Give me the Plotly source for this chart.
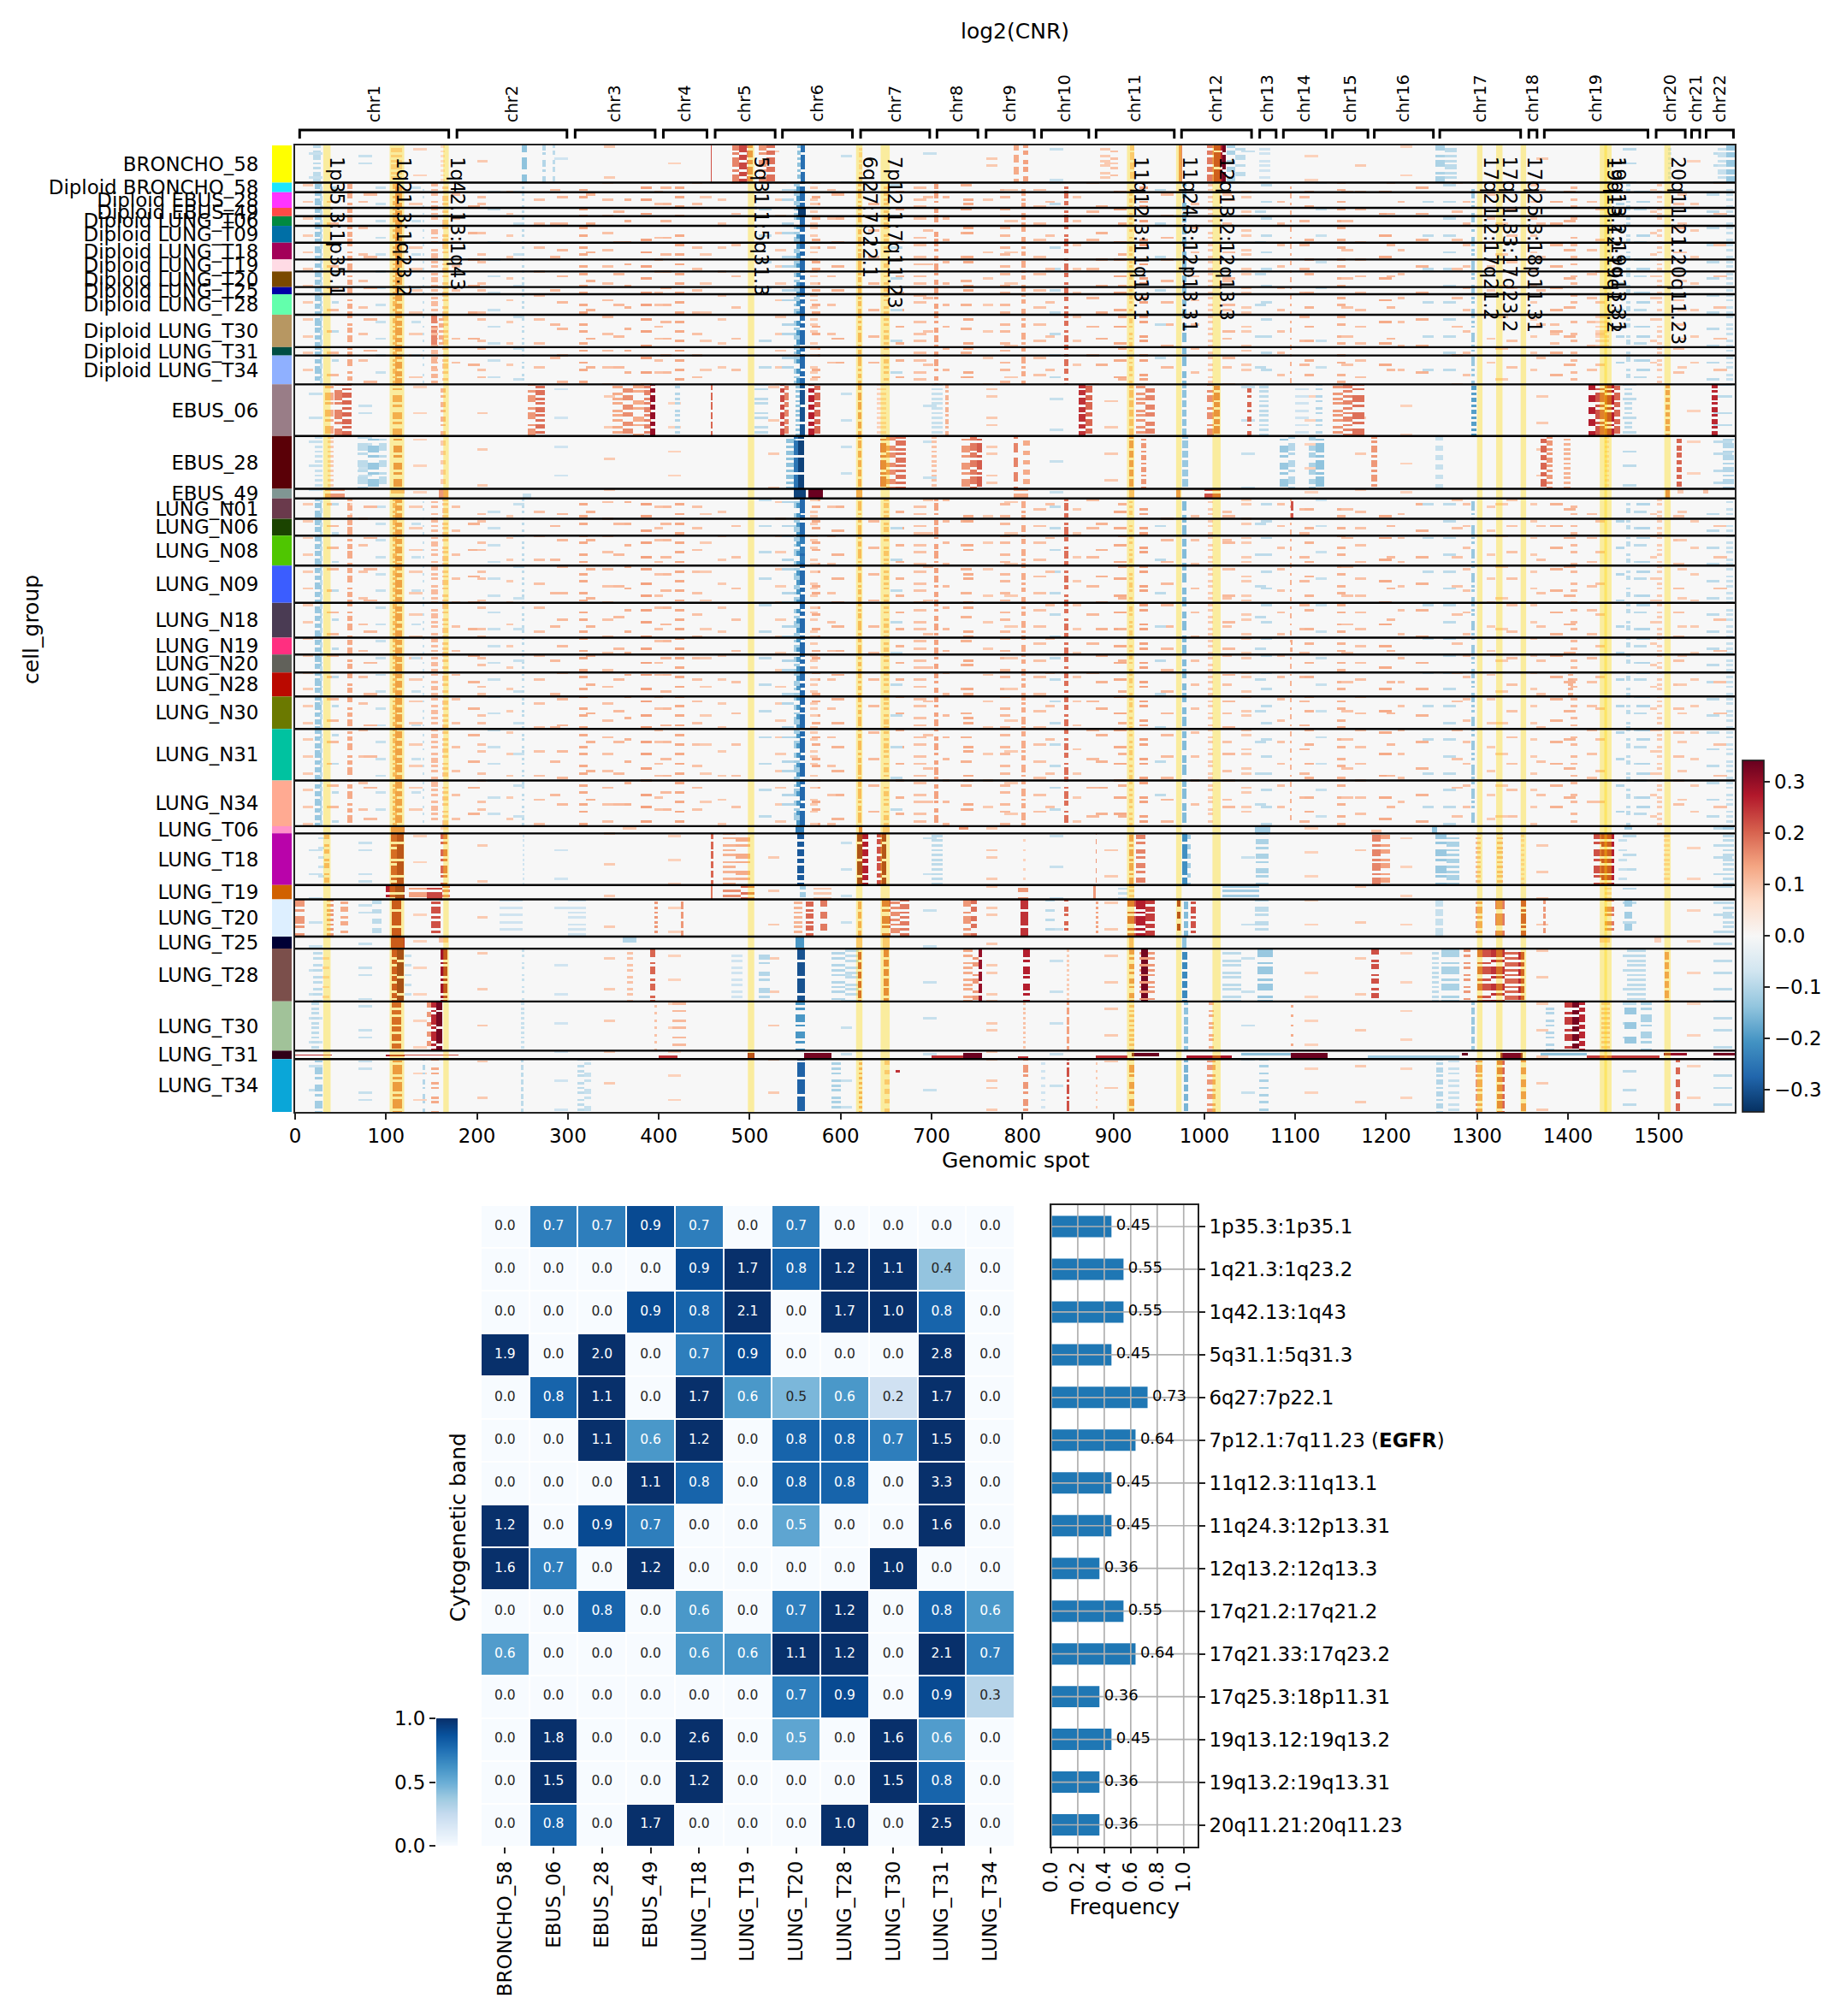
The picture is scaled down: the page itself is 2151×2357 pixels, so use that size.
import numpy as np
import plotly.graph_objects as go

W, H = 2151, 2357
FONT = "DejaVu Sans"

# ---------- main heatmap: groups ----------
GROUPS = ["BRONCHO_58", "Diploid BRONCHO_58", "Diploid EBUS_28", "Diploid EBUS_49", "Diploid LUNG_T06",
          "Diploid LUNG_T09", "Diploid LUNG_T18", "Diploid LUNG_T19", "Diploid LUNG_T20", "Diploid LUNG_T25",
          "Diploid LUNG_T28", "Diploid LUNG_T30", "Diploid LUNG_T31", "Diploid LUNG_T34", "EBUS_06", "EBUS_28",
          "EBUS_49", "LUNG_N01", "LUNG_N06", "LUNG_N08", "LUNG_N09", "LUNG_N18", "LUNG_N19", "LUNG_N20", "LUNG_N28",
          "LUNG_N30", "LUNG_N31", "LUNG_N34", "LUNG_T06", "LUNG_T18", "LUNG_T19", "LUNG_T20", "LUNG_T25", "LUNG_T28",
          "LUNG_T30", "LUNG_T31", "LUNG_T34"]
GROUP_CELLS = [31, 8, 13, 7, 8, 14, 14, 10, 13, 6, 17, 27, 7, 24, 43, 44, 8, 17, 14, 25, 31, 29, 14, 15, 20, 27, 43,
               38, 6, 43, 12, 31, 10, 44, 41, 7, 44]
GROUP_COLORS = ["#FFFF00", "#1CE6FF", "#FF34FF", "#FF4A46", "#008941", "#006FA6", "#A30059", "#FFDBE5", "#7A4900",
                "#0000A6", "#63FFAC", "#B79762", "#004D43", "#8FB0FF", "#997D87", "#5A0007", "#809693", "#6A3A4C",
                "#1B4400", "#4FC601", "#3B5DFF", "#4A3B53", "#FF2F80", "#61615A", "#BA0900", "#6B7900", "#00C2A0",
                "#FFAA92", "#FF90C9", "#B903AA", "#D16100", "#DDEFFF", "#000035", "#7B4F4B", "#A1C299", "#300018",
                "#0AA6D8"]

CHROMS = ["chr%d" % i for i in range(1, 23)]
CHR_START = [5, 178, 308, 405, 462, 536, 622, 706, 760, 821, 881, 975, 1061, 1087, 1141, 1187, 1259, 1357, 1374, 1497, 1536, 1552]
CHR_END = [169, 299, 396, 453, 528, 613, 698, 751, 813, 873, 967, 1052, 1079, 1134, 1180, 1252, 1348, 1366, 1488, 1529, 1545, 1582]

# ---------- cytogenetic bands ----------
BANDS = ["1p35.3:1p35.1", "1q21.3:1q23.2", "1q42.13:1q43", "5q31.1:5q31.3", "6q27:7p22.1", "7p12.1:7q11.23",
         "11q12.3:11q13.1", "11q24.3:12p13.31", "12q13.2:12q13.3", "17q21.2:17q21.2", "17q21.33:17q23.2",
         "17q25.3:18p11.31", "19q13.12:19q13.2", "19q13.2:19q13.31", "20q11.21:20q11.23"]
BAND_TICKS = BANDS[:5] + ["7p12.1:7q11.23 (<b>EGFR</b>)"] + BANDS[6:]
SPAN_START = [31, 104, 163, 498, 617, 644, 915, 969, 1009, 1300, 1321, 1348, 1435, 1440, 1506]
SPAN_END = [39, 120, 169, 505, 624, 654, 923, 975, 1018, 1306, 1328, 1354, 1443, 1448, 1513]

# ---------- log2(CNR) read as: start end value(x100) row-mask ----------
NORMAL = ("22 29 -13 1011101101;27 30 -9 0110010110;57 63 13 1100101101;107 112 13 1011010;110 118 17 1101101;150 157 11 1001011010;"
          "162 168 10 0110100101;140 142 -8 0100010010;249 252 -9 1010010100;548 555 -12 1001101011;551 556 -20 0110;"
          "555 561 -27 1110110111;566 575 9 0010100100;619 623 13 1101011011;647 653 11 1010100101;"
          "703 707 14 1101001101;799 803 13 1010110011;846 850 19 1101100101;917 921 10 1011010010;"
          "975 980 -15 1100111011;1004 1009 9 0101001010;1293 1297 -13 1101010011;1094 1096 12 1001001;"
          "1464 1468 -9 0010110;1497 1503 9 1010010;1574 1581 -8 0100101")
BG_A = ("8 20 9 0010000;35 48 11 000001000;70 80 10 01000000000;88 100 -8 0001000;125 140 9 000000100;172 182 10 1000000000;"
        "190 203 12 00010000000;212 226 -8 0000010;232 240 9 010000000;262 275 10 0010000000;288 300 11 00000000001;"
        "312 322 13 00100100;338 350 10 0100000;362 370 12 000010000;380 392 14 10000010000;402 414 11 0001000;"
        "418 428 13 01000100;436 448 10 000000100;465 474 9 0010000000;510 524 -9 00001000000;528 540 9 0100000;"
        "568 578 13 000100100;590 604 12 1000000000;630 642 11 00100000000;660 670 12 0000010;680 694 10 01000010;"
        "712 720 11 000100000;732 744 12 0000001000;756 768 9 10000000000;775 786 11 00100100;812 826 10 0000100;"
        "830 842 -9 000000100;855 864 9 0100000000;880 894 12 00010000000;900 914 13 0000010;928 938 14 01000001;"
        "952 966 11 001000000;985 994 10 0000100000;1020 1034 11 10000000000;1040 1052 9 00010100;1062 1074 -9 0010000;"
        "1080 1088 10 000001000;1104 1116 11 0100000000;1122 1134 -8 00001000000;1146 1155 12 00100001;1165 1178 10 0000010;"
        "1192 1206 13 010000000;1212 1220 10 0001000000;1232 1246 12 00000010000;1262 1276 -9 0010000;1284 1292 10 000001000;"
        "1310 1320 9 1000000000;1332 1344 10 00001000000;1358 1366 9 0010000;1380 1394 12 000001000;1402 1410 11 01000010;"
        "1420 1432 10 0001000000;1452 1462 -10 00100000000;1472 1486 -9 0000010;1490 1497 9 100000000;1515 1528 10 0000100000;"
        "1534 1544 9 00100000000;1552 1566 -9 0000001")
BG_B = ("40 48 -9 000001000000;75 90 11 0000000100000;128 138 -8 00010000000000;200 210 10 100000000100;240 252 -8 0000001000000;"
        "280 292 11 00001000000000;320 330 12 000000001000;350 362 11 0100000000000;395 404 10 00000100001000;"
        "445 458 9 000000000100;480 490 10 0010000000000;535 548 -10 00001000100000;585 594 10 000000100000;"
        "655 668 -9 0001000000000;690 702 10 00000001000000;735 746 13 100000000010;780 795 9 0000010000000;"
        "825 835 10 00000000010000;870 884 11 000100000000;905 914 12 0000001000000;945 958 -9 00001000000000;"
        "1020 1030 10 000000001000;1055 1068 -9 0100000000000;1110 1120 12 00000100000100;1150 1164 10 000000010000;"
        "1200 1210 11 0010000000000;1240 1252 -9 00000000010000;1272 1284 10 000100000000;1320 1334 9 0000001000000;"
        "1365 1375 10 00001000000000;1395 1408 12 000000010000;1430 1440 10 1000000000000;1475 1490 -10 00000100010000;"
        "1520 1530 9 000000001000;1560 1575 10 0010000000000")
BG_C = ("15 30 -8 0001000000;70 85 -8 0000100100000;130 145 8 01000000000;200 212 9 000000100000000;285 300 -7 000001000000;"
        "340 352 9 1000000000000;410 424 8 0000000100;520 532 9 00100000000000;600 612 -8 00001000000;690 705 -8 000100000000000;"
        "760 772 9 000001001000;830 845 -8 0100000000000;890 905 9 00000001000;1040 1055 -8 00100000000000;1110 1125 8 0000100000;"
        "1165 1178 9 000000001000000;1215 1228 8 100000000000;1365 1378 9 00000100000;1460 1475 -9 01000001000000;"
        "1530 1545 8 0000001000000;1560 1580 -9 000100001000")
USES_NORMAL = [i for i in range(len(GROUPS)) if GROUPS[i].startswith("Diploid") or "_N" in GROUPS[i]]
STRETCHED = ["EBUS_49", "LUNG_T06", "LUNG_T31", "LUNG_T25"]
SPECIFIC = {
    "BRONCHO_58": "20 28 -9 1010110;105 118 9 0110101;249 255 -14 1110011;272 276 -10 1101001;283 286 -9 1011001;160 165 7 1010;457 458 22 1;481 488 17 1101011;488 497 23 1110110;497 503 18 1011101;510 518 15 1101001;518 528 19 1011011;552 556 -14 10110;556 561 -26 1110111;790 796 13 11001;800 806 14 1011001;885 896 9 0100101;896 905 10 0010010;918 923 10 1101;972 975 17 1;1003 1010 18 1011011;1010 1020 27 1101111;1020 1023 33 1110111;1024 1034 -11 1011001;1034 1045 -9 0100110;1060 1072 -7 0101001;1254 1264 -11 1100101;1264 1277 -9 0110101;1564 1574 -8 0101101;1574 1583 -13 1101101;620 624 8 01011;1510 1513 -7 0101",
    "Diploid EBUS_49": "553 562 -33 1;1300 1306 8 0100",
    "Diploid LUNG_T30": "150 156 17 110101011;158 164 13 10101;1430 1445 8 0101;1380 1390 10 0010",
    "Diploid LUNG_T34": "150 156 12 101001",
    "EBUS_06": "33 42 13 1010011;43 52 17 11010011;52 62 20 10110101;107 118 15 1101001;160 166 12 101001;256 264 15 1100101;264 275 19 1010110;349 360 13 1010010;360 372 16 1001101;372 384 13 0110100;384 391 17 1010110;390 396 30 1101101;418 423 -10 1010010;457 459 20 1101;505 520 -9 000101;533 538 23 1101101;538 543 17 1011011;550 556 -14 1010;555 561 -30 1110111;564 571 27 1101101;571 578 20 1011011;619 623 16 1101;700 712 -8 010101;715 719 12 10101;862 869 25 1110110;869 877 20 1011101;925 935 15 1010010;935 945 17 1001101;917 922 12 1011;975 980 -14 1011;1003 1010 16 1100101;1010 1017 19 1011011;1047 1052 20 101001;1060 1070 -9 1010;1122 1130 -10 01001;1141 1152 15 1010010;1152 1163 17 0110101;1163 1176 19 1101001;1293 1299 -19 11010;1422 1430 27 11001;1430 1440 22 1101011;1440 1450 27 1110101;1450 1457 20 1011011;1462 1470 -9 0101;1507 1512 16 110;1558 1564 26 10101;640 650 8 0101;1100 1115 -7 001",
    "EBUS_28": "22 30 -8 0101;36 42 9 0101;69 80 -9 1010011;80 92 -13 1101001;92 101 -9 1001011;108 118 18 1101001;160 166 9 1001;540 550 -14 10110;548 556 -25 1110111;553 560 -32 1110111;619 623 15 1101;643 650 20 1101011;650 660 16 1011001;660 672 19 1010110;733 742 15 1101001;742 750 18 1011011;750 755 21 1101011;700 705 10 0101;790 795 17 110011;800 808 13 1001;917 922 17 1101;930 936 15 10101;975 982 -13 1101;1083 1092 -13 1101001;1092 1100 -10 1010011;1115 1122 -11 1011001;1122 1132 -14 1101011;1183 1190 15 110101;1370 1376 20 1101101;1376 1383 15 1010110;1395 1402 12 1010;1440 1445 7 0101;1519 1525 20 101101;1570 1582 -10 10101;1254 1262 -8 0110",
    "EBUS_49": "33 55 15 1011;105 120 12 10;158 168 15 11;250 260 -8 01;548 562 -32 1;564 580 34 1;617 624 15 1;790 806 13 1011;917 923 12 1;1000 1018 22 1011;969 974 17 1;1507 1512 18 1;1520 1527 9 10;1548 1554 10 10",
    "LUNG_N01": "1095 1098 22 11011;60 63 8 0100",
    "LUNG_N08": "555 561 -24 1101",
    "LUNG_N19": "1095 1097 13 101",
    "LUNG_N28": "1400 1405 12 1010",
    "LUNG_T06": "105 120 18 1;160 168 8 10;360 375 9 10;550 560 -24 1;620 624 20 1;646 654 10 1;730 740 15 10;1055 1072 -12 1;1250 1256 -14 1;1462 1470 -12 10;1570 1582 -12 10;1183 1195 10 01",
    "LUNG_T18": "25 32 -8 1000;32 38 13 100101;105 112 25 1110101;112 119 30 1110111;160 167 20 1101001;250 252 -7 0101;457 460 20 1011;470 484 12 0100101;484 500 13 0110100;552 560 -29 1101101;618 624 32 1110111;624 630 27 1101101;640 645 22 1011011;645 650 31 1110111;700 712 -9 0101;800 803 8 0100;917 922 16 110101;925 935 17 101001;975 981 -21 1110111;981 985 -12 1001;1056 1070 -11 011010;1184 1194 17 110101;1194 1204 14 100101;1254 1266 -13 1101001;1266 1280 -11 0101101;1298 1304 11 1010;1322 1328 12 1010;1348 1352 8 0101;1428 1436 22 1101001;1436 1450 27 1101101;1455 1465 -8 0100;1505 1512 8 0101;1570 1582 -9 0101;880 881 15 0110",
    "LUNG_T19": "100 110 27 1110101;110 120 32 1110111;125 145 14 100101;145 162 23 110101;162 170 17 1010;457 459 18 1;470 490 16 10100;490 505 19 01010;555 562 -12 101;570 590 9 0101;795 806 15 0110;878 880 15 1;917 923 10 10;1020 1060 -12 1010;905 915 -8 01;1440 1448 8 01",
    "LUNG_T20": "0 10 15 1101001;35 42 15 1010;50 58 13 100101;85 95 -9 0011;106 117 28 1110111;150 160 22 110101;225 250 -7 001001;300 320 -7 0010101;395 399 15 0101;424 427 15 1101;548 558 12 0101;562 570 20 11010;578 585 18 11001;619 623 15 1101;645 655 21 1101001;655 665 16 1010110;665 675 18 0110101;735 743 15 1100101;743 750 19 1011001;798 806 25 1110111;825 835 -9 0010;846 850 20 101001;880 883 14 01;915 925 22 1100101;925 935 27 1110101;935 945 24 1011011;970 974 30 11001;977 982 -15 1101;985 990 22 110101;1055 1070 -9 101001;1254 1262 -8 1011;1298 1306 15 110101;1320 1330 18 1110011;1348 1354 25 1101011;1372 1375 15 101;1440 1450 18 101001;1462 1470 -12 11001;1570 1582 -9 0101",
    "LUNG_T25": "105 120 28 1;158 168 10 10;360 375 -10 10;550 560 -20 1;617 624 10 1;646 654 10 1;917 922 12 1;975 980 -14 1;1434 1446 9 10;1495 1502 8 10",
    "LUNG_T28": "20 30 -9 01010;30 38 8 0010;106 112 27 1101101;112 119 33 1110111;160 167 29 1110101;120 128 -8 0100;249 252 -8 10100;390 396 20 1100101;365 372 10 01010;480 492 -7 00101;510 522 -10 0110100;552 561 -30 1110111;590 605 -10 1010010;605 620 -9 0101001;619 623 24 1110;647 653 20 1101;735 745 13 0100101;745 752 15 0010110;752 755 30 11101;800 808 27 1101001;848 851 9 0101;917 923 17 101001;928 945 15 1010010;930 938 33 1101101;975 981 -22 1110;1020 1040 -9 01001;1058 1075 -13 1100101;1183 1192 22 100101;1250 1258 -9 1010;1260 1280 -11 1100101;1285 1292 15 10100;1300 1315 22 1100101;1315 1330 25 1101001;1330 1345 20 1010110;1345 1352 26 1110110;1506 1511 16 1110;1465 1485 -9 010101",
    "LUNG_T30": "18 26 -9 0101;106 117 25 1101101;150 155 26 1101011;155 162 33 1110111;145 150 15 0110;248 252 -8 0101;395 398 10 010;415 430 11 1001000;550 561 -20 1010011;800 803 10 0101;848 851 14 1101;917 923 12 1010;977 982 -14 1101;1005 1010 13 10100;1095 1098 13 0010;1293 1297 -13 1101;1375 1385 -10 01001;1396 1404 24 1100101;1404 1412 33 1101101;1412 1418 26 1011011;1436 1446 10 0101;1462 1475 -13 110001;1480 1492 -11 1010011",
    "LUNG_T31": "0 40 25 0001000;100 120 28 001100;120 180 22 0001000;400 420 25 0010;498 505 30 01110;560 590 33 0110;700 735 25 0010;735 755 34 01110;795 806 25 001;880 915 25 0010;920 950 34 01100;980 1030 28 0010;1095 1135 34 0110;1283 1290 34 0100;1325 1350 32 0110;1420 1500 24 0010;1505 1530 30 0100;1560 1583 33 0100;1040 1095 -14 0100;1370 1420 -14 0100;1180 1280 -12 0010",
    "LUNG_T34": "22 30 -12 1101001;107 118 18 1101011;140 143 -10 101001;150 158 13 101000;248 251 -9 101;310 318 -9 1010010;318 325 -8 0110100;552 561 -28 1110111;590 600 -11 0100101;620 624 14 1010;648 654 10 0110;660 665 25 000000010000000000;800 806 15 1010011;820 825 -7 010;848 851 22 1110101;880 882 9 010;917 923 17 1010011;977 982 -16 1101;1003 1012 15 100101;1060 1070 -11 001001;1255 1262 -10 10101;1268 1280 -8 01001;1298 1306 15 110101;1322 1330 20 1101101;1348 1354 17 11001;1518 1523 20 11001",
}

# ---------- summary heatmap + frequency bars ----------
SAMPLES = ["BRONCHO_58", "EBUS_06", "EBUS_28", "EBUS_49", "LUNG_T18", "LUNG_T19", "LUNG_T20", "LUNG_T28", "LUNG_T30", "LUNG_T31", "LUNG_T34"]
ENRICH = [[0, .7, .7, .9, .7, 0, .7, 0, 0, 0, 0],
          [0, 0, 0, 0, .9, 1.7, .8, 1.2, 1.1, .4, 0],
          [0, 0, 0, .9, .8, 2.1, 0, 1.7, 1.0, .8, 0],
          [1.9, 0, 2.0, 0, .7, .9, 0, 0, 0, 2.8, 0],
          [0, .8, 1.1, 0, 1.7, .6, .46, .6, .2, 1.7, 0],
          [0, 0, 1.1, .6, 1.2, 0, .8, .8, .7, 1.5, 0],
          [0, 0, 0, 1.1, .8, 0, .8, .8, 0, 3.3, 0],
          [1.2, 0, .9, .7, 0, 0, .54, 0, 0, 1.6, 0],
          [1.6, .7, 0, 1.2, 0, 0, 0, 0, 1.0, 0, 0],
          [0, 0, .8, 0, .6, 0, .7, 1.2, 0, .8, .6],
          [.58, 0, 0, 0, .6, .62, 1.1, 1.2, 0, 2.1, .7],
          [0, 0, 0, 0, 0, 0, .7, .9, 0, .9, .3],
          [0, 1.8, 0, 0, 2.6, 0, .54, 0, 1.6, .58, 0],
          [0, 1.5, 0, 0, 1.2, 0, 0, 0, 1.5, .8, 0],
          [0, .8, 0, 1.7, 0, 0, 0, 1.0, 0, 2.5, 0]]
FREQ = [.4545, .5454, .5454, .4545, .7272, .6363, .4545, .4545, .3636, .5454, .6363, .3636, .4545, .3636, .3636]
FREQ_TICKS = [0, .2, .4, .6, .8, 1.0]

RDBU = [[i / 10, c] for i, c in enumerate(["#053061", "#2166ac", "#4393c3", "#92c5de", "#d1e5f0", "#f7f7f7", "#fddbc7", "#f4a582", "#d6604d", "#b2182b", "#67001f"])]
BLUES = [[i / 8, c] for i, c in enumerate(["#f7fbff", "#deebf7", "#c6dbef", "#9ecae1", "#6baed6", "#4292c6", "#2171b5", "#08519c", "#08306b"])]


def dx(a, b):
    return [a / W, b / W]


def dy(top, bot):
    return [1 - bot / H, 1 - top / H]


# build matrix from the band tables
edges = np.concatenate([[0], np.cumsum(GROUP_CELLS)])
Z = np.zeros((edges[-1], 1584), dtype=np.float32)


def paint(row0, n, table, stretch=False):
    for part in table.split(";"):
        t = part.split()
        x0, x1, v = int(t[0]), int(t[1]), float(t[2]) / 100
        mask = t[3] if len(t) > 3 else "1"
        for r in range(n):
            k = int(r * len(mask) / n) if stretch else ((row0 + r) // 2) % len(mask)
            if mask[k] == "1":
                Z[row0 + r, x0:x1] = v


for i, g in enumerate(GROUPS):
    n = GROUP_CELLS[i]
    if i in USES_NORMAL:
        paint(edges[i], n, BG_A)
        paint(edges[i], n, BG_B)
        paint(edges[i], n, NORMAL)
    else:
        paint(edges[i], n, BG_C)
    if g in SPECIFIC:
        paint(edges[i], n, SPECIFIC[g], g in STRETCHED)

fig = go.Figure()
TXT = "#000000"
fig.add_trace(go.Heatmap(z=Z, x0=0.5, dx=1, y0=0.5, dy=1, colorscale=RDBU, zmin=-.343, zmax=.343, hoverinfo="skip",
                         colorbar=dict(x=2036.6 / W, xanchor="left", y=1 - 1299.7 / H, yanchor="bottom", len=411 / H,
                                       lenmode="fraction", thickness=24.7, thicknessmode="pixels", xpad=0, ypad=0,
                                       outlinewidth=1.7, outlinecolor="#222", ticks="outside", ticklen=7, tickwidth=1.7,
                                       tickcolor="#222", tickvals=[-.3, -.2, -.1, 0, .1, .2, .3], tickformat=".1f",
                                       tickfont=dict(family=FONT, size=22.9, color=TXT))))
centers = (edges[:-1] + edges[1:]) / 2
fig.add_trace(go.Bar(x=[1] * len(GROUPS), y=centers, width=GROUP_CELLS, orientation="h", marker=dict(color=GROUP_COLORS, line_width=0),
                     xaxis="x2", yaxis="y2", hoverinfo="skip", showlegend=False))

# summary heatmap
fig.add_trace(go.Heatmap(z=ENRICH, x=SAMPLES, y=BANDS, colorscale=BLUES, zmin=0, zmax=1, showscale=False, xgap=2, ygap=2,
                         xaxis="x3", yaxis="y3", hoverinfo="skip"))
tx, ty, tt, tc = [], [], [], []
for r, row in enumerate(ENRICH):
    for c, v in enumerate(row):
        tx.append(SAMPLES[c]); ty.append(BANDS[r]); tt.append("%.1f" % v)
        tc.append("#ffffff" if v > .5 else "#262626")
fig.add_trace(go.Scatter(x=tx, y=ty, text=tt, mode="text", textposition="middle center", textfont=dict(family=FONT, size=15.5, color=tc),
                         xaxis="x3", yaxis="y3", hoverinfo="skip", showlegend=False))

# frequency bars, grid above, then labels
idx = list(range(len(BANDS)))
fig.add_trace(go.Bar(x=FREQ, y=idx, orientation="h", width=.5, marker=dict(color="#1f77b4", line_width=0), xaxis="x4", yaxis="y4",
                     hoverinfo="skip", showlegend=False))
gx, gy = [], []
for t in FREQ_TICKS:
    gx += [t, t, None]; gy += [-.5, 14.5, None]
for i in idx:
    gx += [0, 1.105, None]; gy += [i, i, None]
fig.add_trace(go.Scatter(x=gx, y=gy, mode="lines", line=dict(color="#b0b0b0", width=1.7), xaxis="x4", yaxis="y4", hoverinfo="skip", showlegend=False))
fig.add_trace(go.Scatter(x=[f + .035 for f in FREQ], y=idx, text=["%.2f" % f for f in FREQ], mode="text", textposition="middle right",
                         textfont=dict(family=FONT, size=18, color=TXT), xaxis="x4", yaxis="y4", hoverinfo="skip", showlegend=False, cliponaxis=False))

# small colour bar
GRAD = [0, .125, .25, .375, .5, .625, .75, .875, 1]
fig.add_trace(go.Heatmap(z=[[g] for g in GRAD], x=[0], y=GRAD, colorscale=BLUES, zmin=0, zmax=1, showscale=False, zsmooth="best",
                         xaxis="x5", yaxis="y5", hoverinfo="skip"))

shapes = []
for a, b in zip(SPAN_START, SPAN_END):
    shapes.append(dict(type="rect", xref="x", yref="y domain", x0=a, x1=b, y0=0, y1=1, fillcolor="rgba(255,215,0,0.36)", line_width=0, layer="above"))
for e in edges[1:-1]:
    shapes.append(dict(type="line", xref="x domain", yref="y", x0=0, x1=1, y0=float(e), y1=float(e), line=dict(color="#000", width=2.4), layer="above"))
for a, b in zip(CHR_START, CHR_END):
    t, l = 1 - 152 / H, 1 - 162 / H
    shapes.append(dict(type="path", xref="x", yref="paper", path=f"M {a},{l} L {a},{t} L {b},{t} L {b},{l}", line=dict(color="#000", width=3)))

ann = []


def note(text, px, py, size=25, angle=0, xa="center", ya="middle"):
    ann.append(dict(text=text, x=px / W, y=1 - py / H, xref="paper", yref="paper", showarrow=False, textangle=angle, xanchor=xa, yanchor=ya,
                    font=dict(family=FONT, size=size, color=TXT), borderpad=0, borderwidth=0))


note("log2(CNR)", 1186.7, 36, 25)
note("Genomic spot", 1187, 1356)
note("cell_group", 36, 736, 25, -90)
note("Cytogenetic band", 535.7, 1785.6, 25, -90)
note("Frequency", 1314.7, 2229.6, 25)
for c, a, b in zip(CHROMS, CHR_START, CHR_END):
    ann.append(dict(text=c, x=(a + b) / 2, y=1 - 143.8 / H, xref="x", yref="paper", showarrow=False, textangle=-90, yanchor="bottom", xanchor="center",
                    font=dict(family=FONT, size=19.5, color=TXT), borderpad=0))
for name, a in zip(BANDS, SPAN_START):
    ann.append(dict(text=name, x=a + 15.5, y=1 - 182 / H, xref="x", yref="paper", showarrow=False, textangle=90, yanchor="top", xanchor="center",
                    font=dict(family=FONT, size=22.3, color=TXT), borderpad=0))

tf = dict(family=FONT, size=22.9, color=TXT)
frame = dict(showline=True, linecolor="#222", linewidth=1.7, mirror=True, showgrid=False, zeroline=False, automargin=False)
plain = dict(showline=False, showgrid=False, zeroline=False, automargin=False)
fig.update_layout(
    template="none", width=W, height=H, margin=dict(l=0, r=0, t=0, b=0, pad=0), paper_bgcolor="white", plot_bgcolor="white", showlegend=False,
    shapes=shapes, annotations=ann, barmode="overlay",
    xaxis=dict(domain=dx(345, 2028), range=[0, 1583.5], tickvals=list(range(0, 1501, 100)), ticks="outside", ticklen=7, tickwidth=1.7, tickcolor="#222", tickfont=tf, anchor="y", **frame),
    yaxis=dict(domain=dy(170, 1300), range=[float(edges[-1]), 0], showticklabels=False, ticks="", anchor="x", **frame),
    xaxis2=dict(domain=dx(318, 341), range=[0, 1], visible=False, anchor="y2", **plain),
    yaxis2=dict(domain=dy(170, 1300), range=[float(edges[-1]), 0], tickvals=[float(c) for c in centers], ticktext=GROUPS, ticks="outside", ticklen=10, tickcolor="rgba(0,0,0,0)",
                tickfont=tf, anchor="x2", **plain),
    xaxis3=dict(domain=dx(562, 1186), range=[-.5, 10.5], type="category", categoryorder="array", categoryarray=SAMPLES, tickangle=-90, ticks="outside", ticklen=7, tickwidth=1.7, tickcolor="#222", tickfont=tf,
                anchor="y3", **plain),
    yaxis3=dict(domain=dy(1409, 2158.5), range=[14.5, -.5], type="category", categoryorder="array", categoryarray=BANDS, showticklabels=False, ticks="", anchor="x3", **plain),
    xaxis4=dict(domain=dx(1229, 1400), range=[0, 1.105], tickvals=FREQ_TICKS, tickformat=".1f", tickangle=-90, ticks="outside", ticklen=7, tickwidth=1.7, tickcolor="#222", tickfont=tf, anchor="y4", **frame),
    yaxis4=dict(domain=dy(1409, 2158.5), range=[14.5, -.5], side="right", tickvals=idx, ticktext=BAND_TICKS, ticks="outside", ticklen=7, tickwidth=1.7, tickcolor="#222", tickfont=tf, anchor="x4", **frame),
    xaxis5=dict(domain=dx(510, 535), visible=False, anchor="y5", **plain),
    yaxis5=dict(domain=dy(2009, 2158), range=[0, 1], tickvals=[0, .5, 1], tickformat=".1f", ticks="outside", ticklen=7, tickwidth=1.7, tickcolor="#222", tickfont=tf, anchor="x5", **plain),
)
fig.write_html("out.html", config={"displayModeBar": False}, post_script="document.body.style.margin='0';")
